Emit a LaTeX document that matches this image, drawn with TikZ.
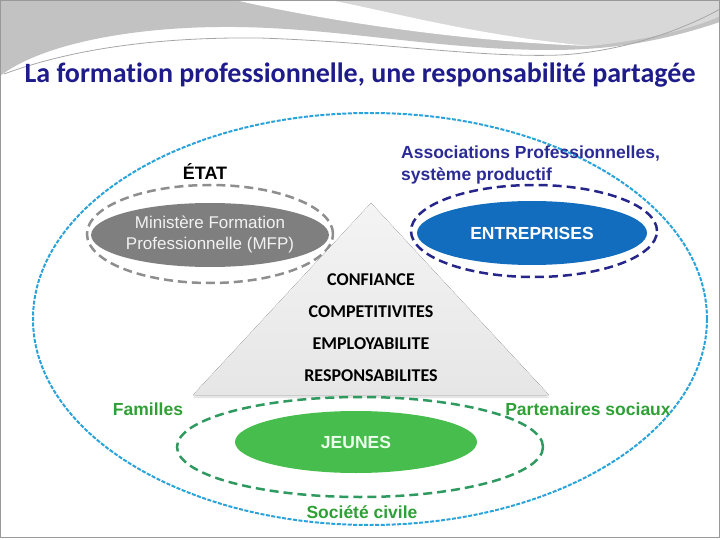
\documentclass[tikz,border=0pt]{standalone}
\usepackage{fontspec}
\setmainfont{Liberation Sans}
\newfontfamily\calibri[Ligatures=NoCommon]{Carlito}
\usetikzlibrary{shapes.geometric,shadows,positioning}
\definecolor{titleNavy}  {HTML}{1E1B8A}
\definecolor{assocNavy}  {HTML}{2B2B96}
\definecolor{ringNavy}   {HTML}{26268A}
\definecolor{outerBlue}  {HTML}{2AA2DA}
\definecolor{mfpGray}    {HTML}{7F7F7F}
\definecolor{ringGray}   {HTML}{8E8E8E}
\definecolor{entBlue}    {HTML}{126DBF}
\definecolor{jeunesGreen}{HTML}{46BD4C}
\definecolor{ringGreen}  {HTML}{2F9A5F}
\definecolor{labelGreen} {HTML}{2FA036}
\definecolor{bannerDark} {HTML}{C2C2C2}
\definecolor{bannerLight}{HTML}{D8D8D8}
\definecolor{pyrTop}     {HTML}{F4F4F4}
\definecolor{pyrBottom}  {HTML}{E6E6E6}
\tikzset{
  blob/.style={ellipse,draw=none,inner sep=0pt,align=center},
  ring/.style={ellipse,fill=none,inner sep=0pt,line width=2.5pt,dash pattern=on 9pt off 5pt},
  tag/.style={inner sep=0pt,font=\fontsize{17.5}{22}\selectfont\bfseries},
  level/.style={inner sep=0pt,font=\calibri\fontsize{18}{22}\selectfont\bfseries},
}
\begin{document}
\begin{tikzpicture}[x=1pt,y=-1pt]
\useasboundingbox (0,0) rectangle (720,540);

% bandeau du haut
\fill[bannerDark] (0,0) -- (720,0) -- (720,22) .. controls (660,42) and (610,50) .. (550,50)
  .. controls (440,50) and (340,28) .. (235,27) .. controls (130,26) and (40,45) .. (0,76) -- cycle;
\fill[bannerLight] (330,0) .. controls (400,15) and (480,38) .. (590,46)
  .. controls (650,40) and (700,26) .. (720,16) -- (720,0) -- cycle;
\fill[white] (235,0) .. controls (330,22) and (470,42) .. (590,46)
  .. controls (480,36) and (400,14) .. (330,0) -- cycle;
\draw[gray!70,line width=.8pt] (4,74) .. controls (80,46) and (170,37) .. (260,38)
  .. controls (380,42) and (480,58) .. (560,55) .. controls (630,51) and (690,26) .. (720,9);
\draw[gray!80,line width=1pt] (.5,.5) rectangle (719.5,537.5);

\node[font=\calibri\fontsize{28}{32}\selectfont\bfseries,text=titleNavy] (titre) at (360,75)
  {La formation professionnelle, une responsabilit\'e partag\'ee};

\node[ring,draw=outerBlue,line width=2pt,dash pattern=on 4pt off 1.5pt,
  minimum width=674pt,minimum height=412pt] (societe) at (370,319) {};

% etat
\node[ring,draw=ringGray,minimum width=246pt,minimum height=98pt] (etatring) at (210,234) {};
\node[blob,fill=mfpGray,text=white!95!black,minimum width=234pt,minimum height=64pt,
  font=\fontsize{17}{21}\selectfont] (mfp) at (210,235) {Minist\`ere Formation\\Professionnelle (MFP)};
\node[tag,font=\fontsize{18}{22}\selectfont\bfseries] (etat) at (205,172) {\'ETAT};

% entreprises
\node[ring,draw=ringNavy,minimum width=246pt,minimum height=92pt] (entring) at (534,231) {};
\node[blob,fill=entBlue,text=white,minimum width=230pt,minimum height=64pt,
  font=\fontsize{17.5}{21}\selectfont\bfseries] (entreprises) at (532,233) {ENTREPRISES};
\node[tag,text=assocNavy,align=left,anchor=north west] (assoc) at (401,146)
  {Associations Professionnelles,\\syst\`eme productif};

% pyramide
\coordinate (sommet) at (371,203);
\coordinate (baseG) at (193,395);
\coordinate (baseD) at (549,395);
\fill[top color=pyrTop,bottom color=pyrBottom,
  drop shadow={shadow xshift=0pt,shadow yshift=-3pt,opacity=.2}]
  (sommet) -- (baseD) -- (baseG) -- cycle;
\node[level] (confiance) at (371,280) {CONFIANCE};
\node[level] (compet)    at (371,312) {COMPETITIVITES};
\node[level] (employ)    at (371,344) {EMPLOYABILITE};
\node[level] (respons)   at (371,376) {RESPONSABILITES};

% jeunes
\node[ring,draw=ringGreen,minimum width=366pt,minimum height=100pt] (jeunesring) at (360,447) {};
\node[blob,fill=jeunesGreen,text=white!92!green,minimum width=242pt,minimum height=62pt,
  font=\fontsize{17.5}{21}\selectfont\bfseries] (jeunes) at (356,442) {JEUNES};
\node[tag,text=labelGreen] (familles)   at (148,409) {Familles};
\node[tag,text=labelGreen] (partenaires) at (588,409) {Partenaires sociaux};
\node[tag,text=labelGreen] (civile)     at (362,512) {Soci\'et\'e civile};

\end{tikzpicture}
\end{document}
